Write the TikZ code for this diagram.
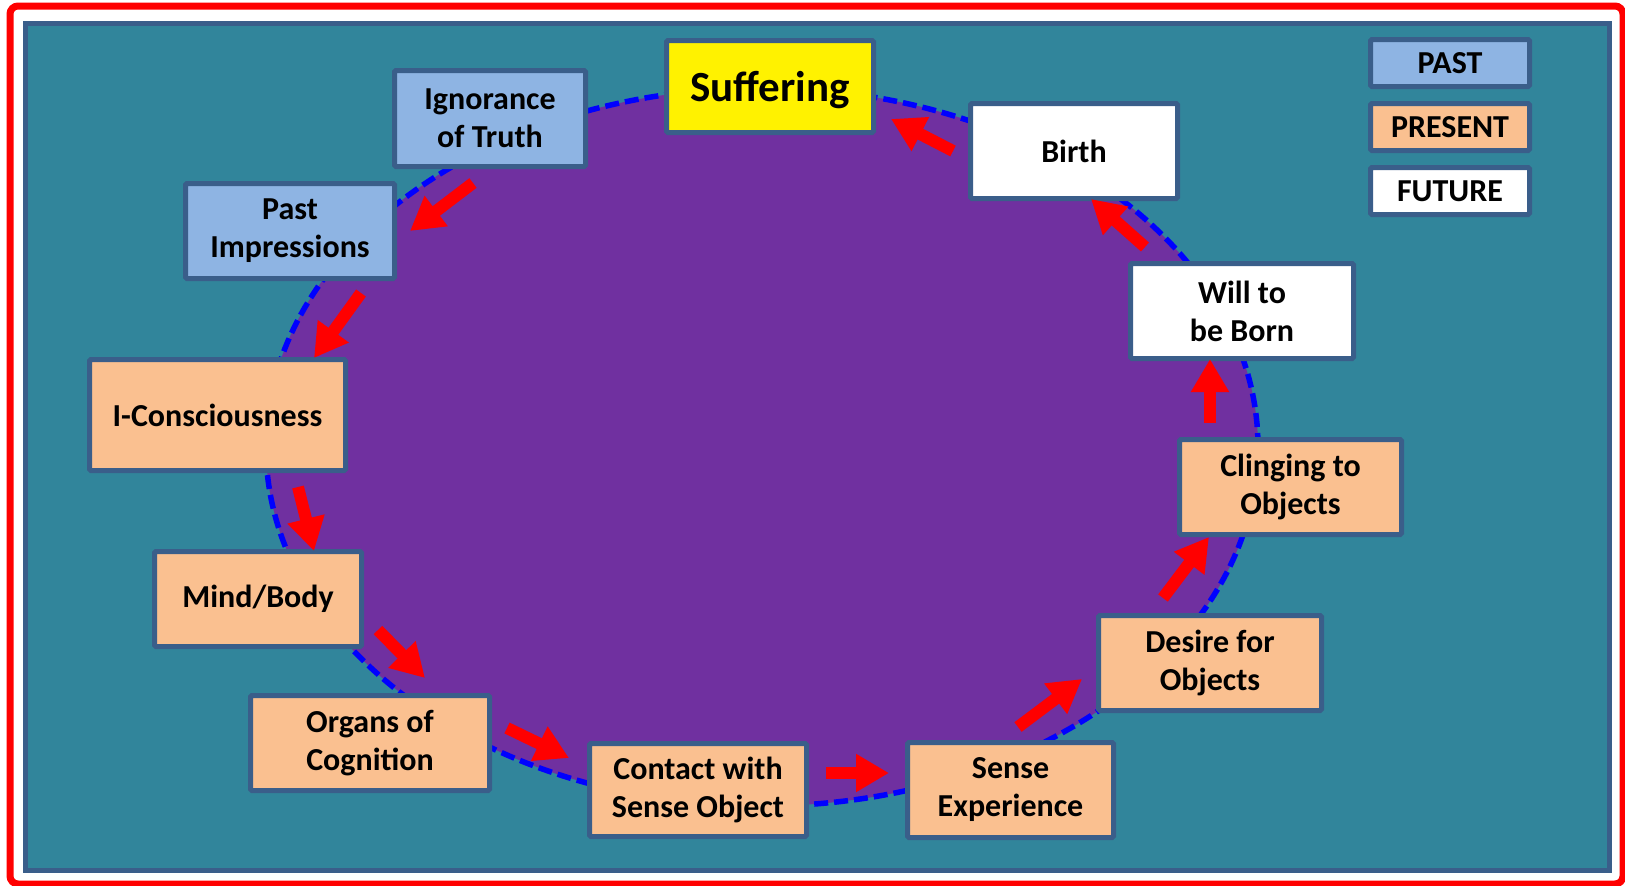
\documentclass[tikz,border=0pt]{standalone}
\usepackage{fontspec}
\setmainfont{Carlito}
\usetikzlibrary{arrows.meta}
\definecolor{tealbg}{RGB}{49,133,155}
\definecolor{purp}{RGB}{112,48,160}
\definecolor{bordc}{RGB}{58,94,138}
\definecolor{pastc}{RGB}{142,180,227}
\definecolor{presc}{RGB}{250,192,144}
\definecolor{dashblue}{RGB}{0,0,255}
\newcommand\boxfont{\fontsize{32}{38}\selectfont\bfseries}
\newcommand\suffont{\fontsize{43}{50}\selectfont\bfseries}
\newcommand\legfont{\fontsize{32}{36}\selectfont\bfseries}
\begin{document}
\begin{tikzpicture}[x=1pt,y=-1pt,
  box/.style={draw=bordc, line width=5pt, inner sep=0pt, align=center, font=\boxfont, text=black, rounded corners=1.5pt},
  pastbox/.style={box, fill=pastc},
  presbox/.style={box, fill=presc},
  futbox/.style={box, fill=white},
  legbox/.style={box, font=\legfont, minimum width=159pt, minimum height=47pt},
  bigarrow/.style={draw=red, line width=12pt, -{Triangle[width=36pt,length=33pt]}, fill=red}]
\useasboundingbox (0,0) rectangle (1625,886);
% frames
\draw[red, line width=7pt, rounded corners=8pt] (10,6) rectangle (1623,884);
\filldraw[fill=tealbg, draw=bordc, line width=5pt] (25.5,23.5) rectangle (1609.5,870.5);
% wheel
\filldraw[fill=purp, draw=dashblue, line width=5.5pt, dash pattern=on 14pt off 6pt] (762,447) ellipse [x radius=496pt, y radius=359pt];
% boxes
\node[pastbox, minimum width=191pt, minimum height=96pt] (ign) at (490,118.5) {Ignorance\\of Truth};
\node[box, fill=yellow, font=\suffont, minimum width=207pt, minimum height=92pt, text depth=0pt] (suff) at (770,86.5) {Suffering};
\node[futbox, minimum width=207pt, minimum height=95pt] (birth) at (1074,151) {Birth};
\node[pastbox, minimum width=209pt, minimum height=95pt] (past) at (290,231) {Past\\Impressions};
\node[futbox, minimum width=223pt, minimum height=95pt] (will) at (1242,311) {Will to\\be Born};
\node[presbox, minimum width=256pt, minimum height=111pt] (icon) at (217.5,415) {I-Consciousness};
\node[presbox, minimum width=222pt, minimum height=95pt] (cling) at (1290.5,487) {Clinging to\\Objects};
\node[presbox, minimum width=207pt, minimum height=95pt] (mind) at (258,599) {Mind/Body};
\node[presbox, minimum width=223pt, minimum height=95pt] (desire) at (1210,663) {Desire for\\Objects};
\node[presbox, minimum width=239pt, minimum height=95pt] (organs) at (370,743) {Organs of\\Cognition};
\node[presbox, minimum width=217pt, minimum height=93pt] (contact) at (698,790) {Contact with\\Sense Object};
\node[presbox, minimum width=206pt, minimum height=95pt] (sense) at (1010.5,790) {Sense\\Experience};
% legend
\node[legbox, fill=pastc] (lpast) at (1450,63) {PAST};
\node[legbox, fill=presc] (lpres) at (1450,127) {PRESENT};
\node[legbox, fill=white] (lfut) at (1450,191) {FUTURE};
% arrow end points
\coordinate (t1) at (473,183);  \coordinate (h1) at (410,231);
\coordinate (t2) at (361,293);  \coordinate (h2) at (314,358);
\coordinate (t3) at (298,487);  \coordinate (h3) at (314,551);
\coordinate (t4) at (378,630);  \coordinate (h4) at (425,678);
\coordinate (t5) at (507,728);  \coordinate (h5) at (569,758);
\coordinate (t6) at (826,773);  \coordinate (h6) at (889,773);
\coordinate (t7) at (1018,727); \coordinate (h7) at (1082,679);
\coordinate (t8) at (1163,598); \coordinate (h8) at (1209,537);
\coordinate (t9) at (1210,423); \coordinate (h9) at (1210,359);
\coordinate (t10) at (1145,247); \coordinate (h10) at (1091,199);
\coordinate (t11) at (953,151); \coordinate (h11) at (891,119);
\foreach \i in {1,...,11} {\draw[bigarrow] (t\i) -- (h\i);}
\end{tikzpicture}
\end{document}
